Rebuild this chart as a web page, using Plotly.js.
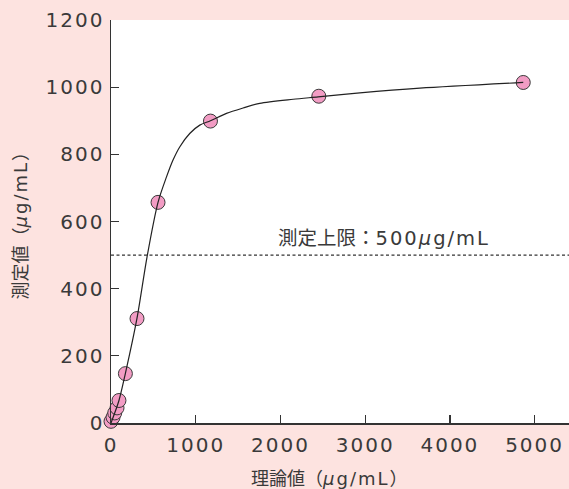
<!DOCTYPE html>
<html>
<head>
<meta charset="utf-8">
<script src="https://cdn.plot.ly/plotly-3.0.1.min.js"></script>
<style>
html,body{margin:0;padding:0;background:#fde3e0;}
.xtick text, .ytick text { letter-spacing: 2px; }
</style>
</head>
<body>
<div id="chart" style="width:569px;height:489px;"></div>
<script>
// measured points: theoretical value vs measured value (µg/mL)
const theoretical = [0, 24, 44, 71, 94, 170, 307, 555, 1174, 2453, 4866];
const measured    = [5, 17, 30, 45, 67, 147, 311, 657, 899, 973, 1014];
// fitted curve
const fitX = [0, 94, 170, 307, 425, 555, 654, 732, 811, 929, 1048, 1174, 1363, 1559, 1756, 2150, 2445, 2937, 3646, 4866];
const fitY = [0, 67, 148, 312, 494, 657, 732, 783, 822, 862, 887, 900, 922, 938, 952, 964, 971, 983, 997, 1014];
const upperLimit = 500;
const xTicks = [0, 1000, 2000, 3000, 4000, 5000];
const yTicks = [0, 200, 400, 600, 800, 1000, 1200];

const FONT = '"Noto Sans CJK JP", "Noto Sans", sans-serif';
const NUMFONT = '"DejaVu Sans", sans-serif';
const TXT = '#3a3a3a';
const LAT = '<span style="font-family:\'DejaVu Sans\';letter-spacing:2px">';

const traces = [
  {
    x: theoretical, y: measured, type: 'scatter', mode: 'markers',
    marker: {size: 14, color: '#f29cc4', line: {color: '#3a3a3a', width: 1}},
    cliponaxis: false, hoverinfo: 'skip'
  },
  {
    x: fitX, y: fitY, type: 'scatter', mode: 'lines',
    line: {color: '#222', width: 1.2, shape: 'spline', smoothing: 0.8},
    cliponaxis: false, hoverinfo: 'skip'
  }
];

const layout = {
  width: 569, height: 489,
  margin: {l: 111, r: 0, t: 20, b: 66, pad: 0},
  paper_bgcolor: '#fde3e0',
  plot_bgcolor: '#ffffff',
  showlegend: false,
  font: {family: FONT, color: TXT, size: 19},
  xaxis: {
    range: [0, 5406], tickvals: xTicks, ticktext: xTicks.map(String),
    ticks: 'inside', ticklen: 8, tickwidth: 1.3, tickcolor: '#333',
    showline: true, linecolor: '#333', linewidth: 1.5,
    showgrid: false, zeroline: false,
    tickfont: {family: NUMFONT, size: 20, color: TXT},
    ticklabelstandoff: 3
  },
  yaxis: {
    range: [0, 1200], tickvals: yTicks, ticktext: yTicks.map(String),
    ticks: 'inside', ticklen: 8, tickwidth: 1.3, tickcolor: '#333',
    showline: true, linecolor: '#333', linewidth: 1.5,
    showgrid: false, zeroline: false,
    tickfont: {family: NUMFONT, size: 20, color: TXT},
    ticklabelstandoff: 1
  },
  shapes: [{
    type: 'line', xref: 'paper', x0: 0, x1: 1, yref: 'y', y0: upperLimit, y1: upperLimit,
    line: {color: '#333', width: 1.2, dash: '3px,2.5px'}
  }],
  annotations: [
    {
      text: '測定上限：' + LAT + '500<i>μ</i>g/mL</span>', xref: 'x', yref: 'y', x: 3227, y: upperLimit,
      xanchor: 'center', yanchor: 'bottom', yshift: 2, showarrow: false,
      font: {family: FONT, size: 19.5, color: TXT}
    },
    {
      text: '理論値（' + LAT + '<i>μ</i>g/mL</span>）', xref: 'paper', yref: 'paper', x: 0.477, y: 0,
      xanchor: 'center', yanchor: 'middle', yshift: -54, showarrow: false,
      font: {family: FONT, size: 18, color: TXT}
    },
    {
      text: '測定値（' + LAT + '<i>μ</i>g/mL</span>）', xref: 'paper', yref: 'paper', x: 0, y: 0.5,
      xanchor: 'center', yanchor: 'middle', xshift: -93, textangle: -90, showarrow: false,
      font: {family: FONT, size: 18, color: TXT}
    }
  ]
};

Plotly.newPlot('chart', traces, layout, {displayModeBar: false, staticPlot: true});
</script>
</body>
</html>
